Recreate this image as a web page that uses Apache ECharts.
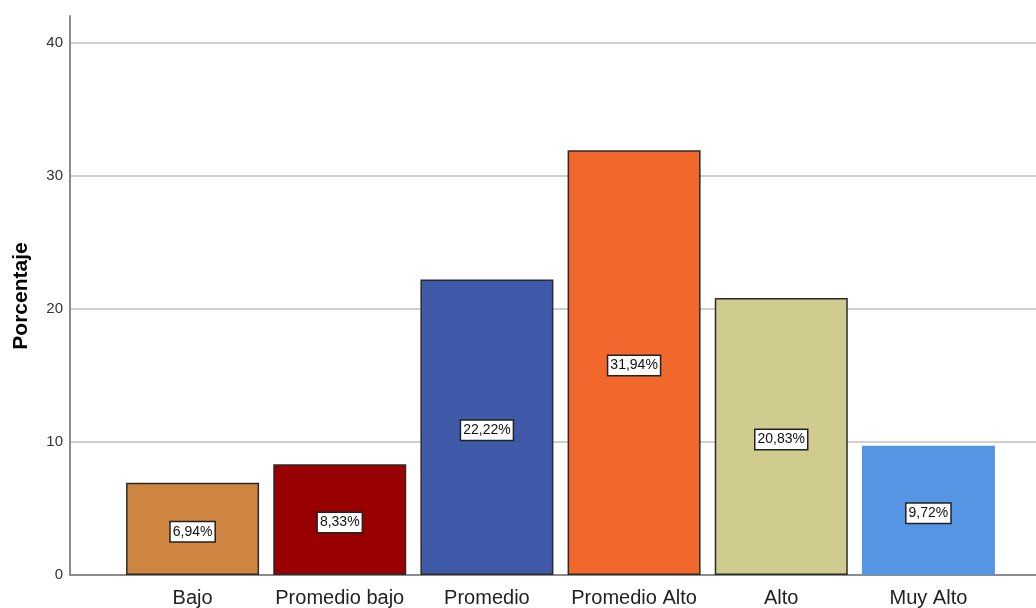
<!DOCTYPE html>
<html>
<head>
<meta charset="utf-8">
<script src="https://cdn.jsdelivr.net/npm/echarts@6/dist/echarts.min.js"></script>
<style>
  html, body { margin: 0; padding: 0; background: #fff; }
  #chart { width: 1036px; height: 608px; }
</style>
</head>
<body>
<div id="chart"></div>
<script>
// Niveles y porcentajes
const categories = ['Bajo', 'Promedio bajo', 'Promedio', 'Promedio Alto', 'Alto', 'Muy Alto'];
const percentages = [6.94, 8.33, 22.22, 31.94, 20.83, 9.72];
const barColors = ['#CD8540', '#990000', '#3E5AA8', '#F2672C', '#D0CB8E', '#5595E3'];
const yAxisTitle = 'Porcentaje';

const chart = echarts.init(document.getElementById('chart'), null, { renderer: 'canvas' });

const yMin = 0, yMax = 40, yInterval = 10;
const plotTop = 43, plotBottom = 33;
const frameTop = 16;            // the y axis line runs a little above the top tick
const font = 'Liberation Sans, Arial, sans-serif';

chart.setOption({
  backgroundColor: '#ffffff',
  animation: false,
  graphic: [
    {
      type: 'text', left: 9, top: 'middle', rotation: Math.PI / 2,
      originX: 0, originY: 0,
      style: {
        text: yAxisTitle, fill: '#000', font: 'bold 21px ' + font,
        align: 'center', verticalAlign: 'middle'
      },
      x: 21, y: 296, left: null, top: null
    }
  ],
  grid: [
    // frame: y axis line and baseline across the full width
    { left: 70, right: 0, top: frameTop, bottom: plotBottom },
    // tick labels and gridlines
    { left: 70, right: 0, top: plotTop, bottom: plotBottom },
    // bars
    { left: 119, right: 34, top: plotTop, bottom: plotBottom }
  ],
  xAxis: [
    {
      gridIndex: 0, type: 'category', data: [''],
      axisLine: { show: true, lineStyle: { color: '#8c8c8c', width: 2 } },
      axisTick: { show: false }, axisLabel: { show: false }
    },
    {
      gridIndex: 1, type: 'category', data: [''], show: false
    },
    {
      gridIndex: 2, type: 'category', data: categories,
      axisLine: { show: false }, axisTick: { show: false },
      axisLabel: { color: '#222', fontSize: 20, fontFamily: font, margin: 13, interval: 0 }
    }
  ],
  yAxis: [
    {
      gridIndex: 0, type: 'value', min: 0, max: 1,
      axisLine: { show: true, lineStyle: { color: '#8c8c8c', width: 2 } },
      axisTick: { show: false }, axisLabel: { show: false }, splitLine: { show: false }
    },
    {
      gridIndex: 1, type: 'value', min: yMin, max: yMax, interval: yInterval,
      axisLine: { show: false },
      axisTick: { show: false },
      axisLabel: { color: '#333', fontSize: 15, fontFamily: font, margin: 7 },
      splitLine: { show: true, lineStyle: { color: '#cfcfcf', width: 2 } }
    },
    {
      gridIndex: 2, type: 'value', min: yMin, max: yMax, interval: yInterval,
      show: false, splitLine: { show: false }
    }
  ],
  series: [
    {
      type: 'bar', xAxisIndex: 2, yAxisIndex: 2,
      barWidth: 133,
      data: percentages.map((v, i) => ({
        value: v,
        itemStyle: {
          color: barColors[i],
          borderColor: i === percentages.length - 1 ? barColors[i] : '#2b2b2b',
          borderWidth: i === percentages.length - 1 ? 0 : 1.5
        }
      })),
      label: {
        show: true, position: 'inside',
        formatter: p => p.value.toFixed(2).replace('.', ',') + '%',
        color: '#111', fontSize: 14, fontFamily: font,
        backgroundColor: '#ffffff', borderColor: '#222', borderWidth: 1.5,
        padding: [3, 2, 2, 2], offset: [0, 3]
      }
    }
  ]
});
</script>
</body>
</html>
